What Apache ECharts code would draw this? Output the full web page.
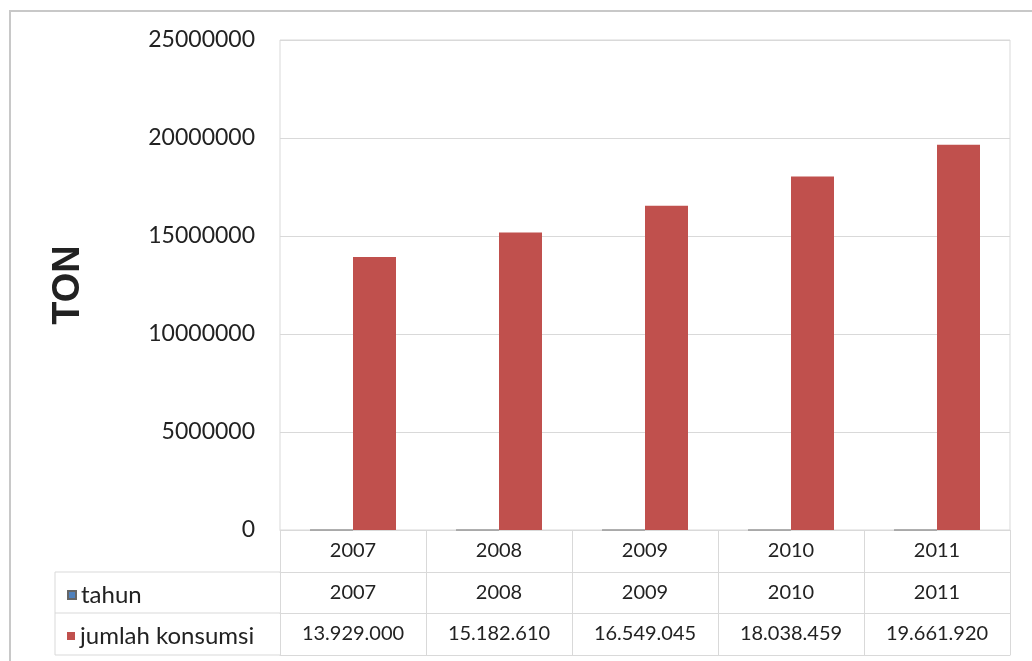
<!DOCTYPE html>
<html>
<head>
<meta charset="utf-8">
<script src="https://cdn.jsdelivr.net/npm/echarts@6/dist/echarts.min.js"></script>
<style>
  html, body { margin: 0; padding: 0; background: #fff; }
  #chart { width: 1032px; height: 661px; }
</style>
</head>
<body>
<div id="chart"></div>
<script>
// data
const years = ['2007', '2008', '2009', '2010', '2011']
const tahun = [2007, 2008, 2009, 2010, 2011]
const konsumsi = [13929000, 15182610, 16549045, 18038459, 19661920]
const yTicks = { min: 0, max: 25000000, interval: 5000000 }

const fmtDots = v => String(v).replace(/\B(?=(\d{3})+(?!\d))/g, '.')

const FONT = 'Lato'
const LINE = '#d9d9d9'
const BLUE = '#4f81bd'
const RED = '#c0504d'

const chart = echarts.init(document.getElementById('chart'))

// table rows under the plot: years, tahun, jumlah konsumsi
const rowAxis = (offset, labels, showTick) => ({
  type: 'category',
  position: 'bottom',
  offset: offset,
  data: labels,
  axisLine: { show: true, lineStyle: { color: LINE, width: 1 } },
  axisTick: { show: showTick, length: 125, interval: 0, lineStyle: { color: LINE } },
  axisLabel: { show: labels.length > 0, interval: 0, margin: 11, color: '#222', fontFamily: FONT, fontSize: 20 },
  splitLine: { show: false }
})

const legendText = { fontFamily: FONT, fontSize: 24, color: '#222' }

const option = {
  animation: false,
  grid: { left: 280, right: 22, top: 40, bottom: 131, show: true, borderColor: LINE, borderWidth: 1 },
  legend: [
    { data: ['tahun'], orient: 'vertical', left: 62, top: 578, itemWidth: 8, itemHeight: 8, icon: 'rect',
      itemGap: 0, textStyle: legendText },
    { data: ['jumlah konsumsi'], orient: 'vertical', left: 62, top: 619, itemWidth: 8, itemHeight: 8, icon: 'rect',
      itemGap: 0, textStyle: legendText }
  ],
  xAxis: [
    rowAxis(0, years, true),
    rowAxis(42, tahun.map(String), false),
    rowAxis(83, konsumsi.map(fmtDots), false),
    rowAxis(125, [], false)
  ],
  yAxis: {
    type: 'value',
    min: yTicks.min, max: yTicks.max, interval: yTicks.interval,
    name: 'TON',
    nameLocation: 'middle',
    nameRotate: 90,
    nameGap: 192,
    nameTextStyle: { fontFamily: 'Liberation Sans', fontWeight: 'bold', fontSize: 38, color: '#222' },
    axisLine: { show: false },
    axisTick: { show: false },
    axisLabel: { margin: 25, color: '#222', fontFamily: FONT, fontSize: 23, formatter: v => String(v) },
    splitLine: { lineStyle: { color: LINE } }
  },
  series: [
    { name: 'tahun', type: 'bar', data: tahun, barWidth: 43, barGap: '0%',
      itemStyle: { color: BLUE, borderColor: '#666', borderWidth: 0.5 } },
    { name: 'jumlah konsumsi', type: 'bar', data: konsumsi, barWidth: 43,
      itemStyle: { color: RED } }
  ],
  graphic: [
    // outer frame
    { type: 'polyline', shape: { points: [[10, 661], [10, 11], [1032, 11]] }, style: { stroke: '#c8c8c8', lineWidth: 2, fill: null } },
    // left part of the data table (legend column)
    { type: 'polyline', shape: { points: [[280, 572], [55, 572], [55, 655], [280, 655]] }, style: { stroke: LINE, lineWidth: 1, fill: null } },
    { type: 'line', shape: { x1: 55, y1: 613, x2: 280, y2: 613 }, style: { stroke: LINE, lineWidth: 1 } }
  ]
}

chart.setOption(option)
</script>
</body>
</html>
